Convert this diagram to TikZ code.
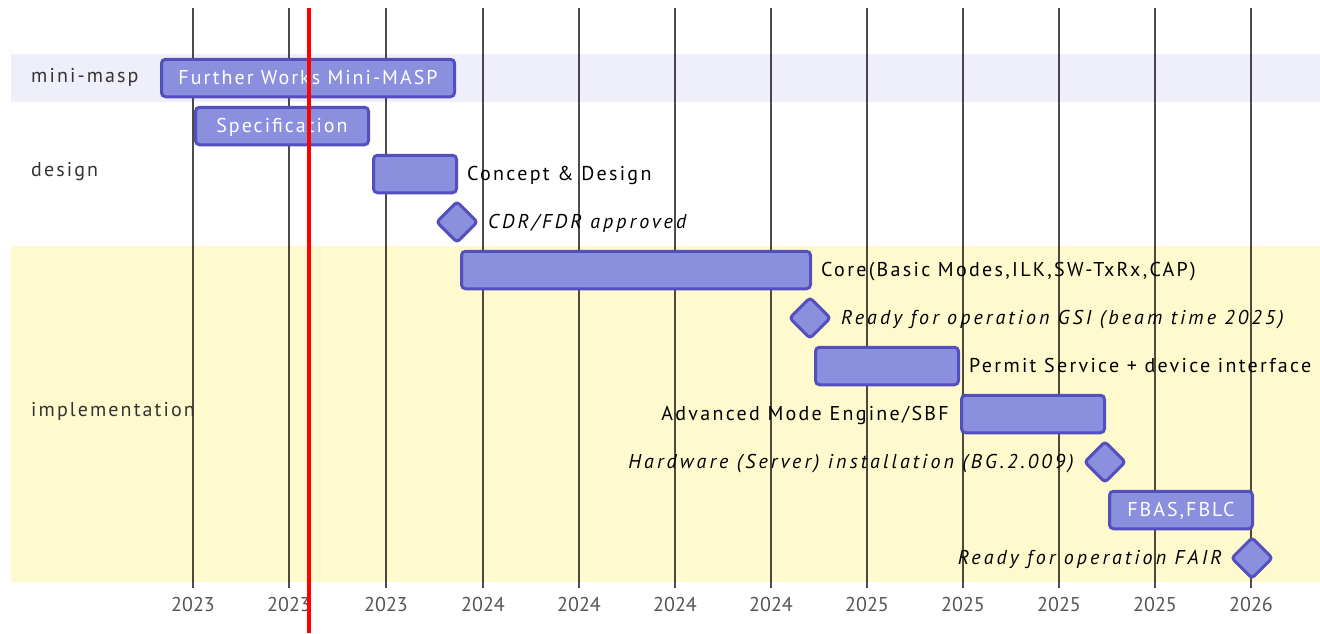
\documentclass[tikz,border=0pt]{standalone}
\usepackage{fontspec}
\setmainfont{PT Sans}
\newfontfamily\taskfont[LetterSpace=11.5]{PT Sans}
\newfontfamily\barfont[LetterSpace=10]{PT Sans}
\newfontfamily\msfont[LetterSpace=15.5]{PT Sans}
\newfontfamily\secfont[LetterSpace=10.5]{PT Sans}
\usetikzlibrary{shapes.geometric}
\definecolor{barfill}{HTML}{8A90DD}
\definecolor{barline}{HTML}{534FBC}
\definecolor{secA}{HTML}{EFEFFC}
\definecolor{secB}{HTML}{FFFACD}
\definecolor{seclab}{HTML}{333333}
\definecolor{axlab}{HTML}{555555}
\tikzset{
  bar/.style={draw=barline, fill=barfill, line width=3pt, rounded corners=4pt, minimum height=37.5pt, inner sep=0pt, outer sep=0pt, anchor=west},
  intext/.style={text=white, font=\barfont\fontsize{20}{24}\selectfont},
  outtext/.style={text=black, font=\taskfont\fontsize{20}{24}\selectfont, inner sep=0pt},
  mstext/.style={text=black, font=\msfont\itshape\fontsize{20}{24}\selectfont, inner sep=0pt},
  mile/.style={draw=barline, fill=barfill, line width=3pt, rounded corners=3pt, minimum size=28.5pt, inner sep=0pt, rotate=45},
  seclabel/.style={text=seclab, font=\secfont\fontsize{20}{24}\selectfont, anchor=base west, inner sep=0pt},
  axislabel/.style={text=axlab, font=\fontsize{20}{24}\selectfont, inner sep=0pt, anchor=base},
  grid/.style={draw=black, opacity=0.7, line width=1.3pt},
}
\begin{document}
\begin{tikzpicture}[x=1pt, y=-1pt]
\useasboundingbox (0,0) rectangle (1320,633);
% section bands
\fill[secA] (11,54) rectangle (1320,102);
\fill[white] (11,102) rectangle (1320,246);
\fill[secB] (11,246) rectangle (1320,582);
% grid lines and axis labels
\foreach \x/\lab [count=\i] in {193/2023,289/2023,386/2023,483/2024,579/2024,675/2024,771/2024,867/2025,963/2025,1059/2025,1155/2025,1251/2026} {
  \coordinate (gt\i) at (\x,8);
  \coordinate (gb\i) at (\x,588);
  \draw[grid] (gt\i) -- (gb\i);
  \node[axislabel] (ax\i) at (\x,611.5) {\lab};
}
% section labels
\node[seclabel] (s1) at (31,82) {mini-masp};
\node[seclabel] (s2) at (31,176) {design};
\node[seclabel] (s3) at (31,416) {implementation};
% tasks
\node[bar, minimum width=293pt] (t1) at (161.5,78) {};
\node[intext, anchor=base, inner sep=0pt] (l1) at ([yshift=-6pt]t1.center) {Further Works Mini-MASP};
\node[bar, minimum width=173pt] (t2) at (195.5,126) {};
\node[intext, anchor=base, inner sep=0pt] (l2) at ([yshift=-6pt]t2.center) {Specification};
\node[bar, minimum width=83pt] (t3) at (373.5,174) {};
\node[outtext, anchor=base west] (l3) at (467,180) {Concept \& Design};
\node[mile] (m1) at (457,222) {};
\node[mstext, anchor=base west] (lm1) at (488,228) {CDR/FDR approved};
\node[bar, minimum width=349pt] (t4) at (461.5,270) {};
\node[outtext, anchor=base west] (l4) at (821,276) {Core(Basic Modes,ILK,SW-TxRx,CAP)};
\node[mile] (m2) at (810,318) {};
\node[mstext, anchor=base west] (lm2) at (841,324) {Ready for operation GSI (beam time 2025)};
\node[bar, minimum width=143pt] (t5) at (815.5,366) {};
\node[outtext, anchor=base west] (l5) at (969,372) {Permit Service + device interface};
\node[bar, minimum width=143pt] (t6) at (961.5,414) {};
\node[outtext, anchor=base east] (l6) at (949,420) {Advanced Mode Engine/SBF};
\node[mile] (m3) at (1105,462) {};
\node[mstext, anchor=base east] (lm3) at (1074,468) {Hardware (Server) installation (BG.2.009)};
\node[bar, minimum width=143pt] (t7) at (1109.5,510) {};
\node[intext, anchor=base, inner sep=0pt] (l7) at ([yshift=-6pt]t7.center) {FBAS,FBLC};
\node[mile] (m4) at (1252,558) {};
\node[mstext, anchor=base east] (lm4) at (1222,564) {Ready for operation FAIR};
% today line
\coordinate (r1) at (309,8);
\coordinate (r2) at (309,633);
\draw[red, line width=3.5pt] (r1) -- (r2);
\end{tikzpicture}
\end{document}
